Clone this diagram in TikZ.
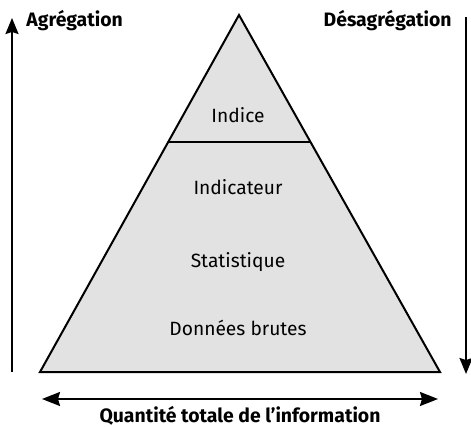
\documentclass[tikz,border=0pt]{standalone}
\usepackage{fontspec}
\setmainfont{Fira Sans}
\usepackage{xcolor}
\usetikzlibrary{arrows.meta, positioning, calc}
\definecolor{pyrfill}{HTML}{E2E2E2}

\begin{document}
\begin{tikzpicture}[x=0.5pt, y=-0.5pt,
  level/.style={font=\fontsize{9.6}{11}\selectfont, inner sep=1pt},
  side/.style={font=\fontsize{9.7}{12}\selectfont\bfseries, inner sep=1pt},
  pyr/.style={draw, line width=1pt, fill=pyrfill, line join=miter},
  arr/.style={-{Stealth[length=8pt, width=6.5pt, inset=1pt]}, line width=1pt},
  darr/.style={{Stealth[length=9pt, width=7pt, inset=1pt]}-{Stealth[length=9pt, width=7pt, inset=1pt]}, line width=1pt}
]
\useasboundingbox (0,0) rectangle (471,427);

% Pyramid
\coordinate (top) at (239,15);
\coordinate (bl) at (40,372);
\coordinate (br) at (440,372);
\draw[pyr] (top) -- (br) -- (bl) -- cycle;
\coordinate (cutl) at ($(top)!0.357!(bl)$);
\coordinate (cutr) at ($(top)!0.357!(br)$);
\draw[line width=1pt] (cutl) -- (cutr);

% Nodes
\node[level] (indice) at (238,115) {Indice};
\node[level] (indic) at (238,187) {Indicateur};
\node[level] (stat) at (238,262) {Statistique};
\node[level] (donnees) at (238,328) {Données brutes};
\node[side, anchor=west] (agr) at (24,21) {Agrégation};
\node[side, anchor=east] (desagr) at (454,21) {Désagrégation};
\node[side] (quant) at (240,416) {Quantité totale de l’information};

% Arrows
\coordinate (agrlo) at (12,372);
\coordinate (agrhi) at (12,18);
\coordinate (desahi) at (466,17);
\coordinate (desalo) at (466,374);
\coordinate (ql) at (42,399);
\coordinate (qr) at (438,399);
\draw[arr] (agrlo) -- (agrhi);
\draw[arr] (desahi) -- (desalo);
\draw[darr] (ql) -- (qr);

\end{tikzpicture}
\end{document}
